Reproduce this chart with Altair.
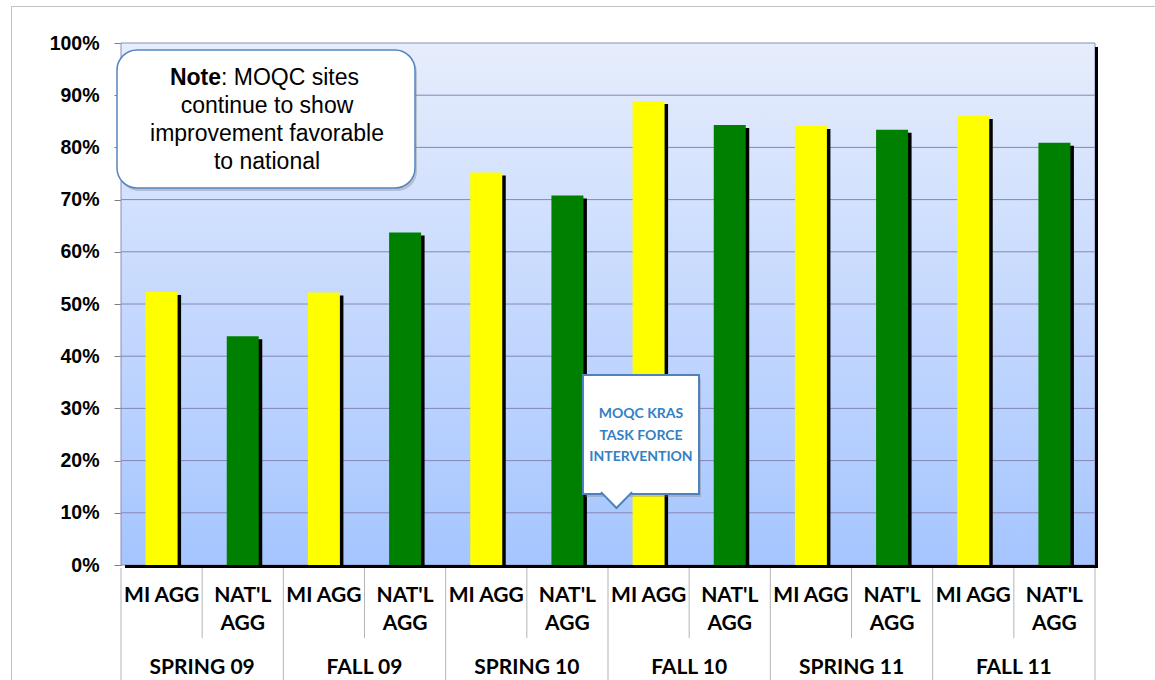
import altair as alt
import pandas as pd

# ---- data -------------------------------------------------------------
terms = ["SPRING 09", "FALL 09", "SPRING 10", "FALL 10", "SPRING 11", "FALL 11"]
series = ["MI AGG", "NAT'L AGG"]
series_label_lines = [["MI AGG"], ["NAT'L", "AGG"]]
mi_agg = [52.3, 52.2, 75.2, 88.9, 84.1, 86.0]
natl_agg = [43.8, 63.7, 70.8, 84.3, 83.4, 80.9]
series_colors = ["#FFFF00", "#008000"]
y_ticks = list(range(0, 101, 10))
note_bold = "Note"
note_first_rest = ": MOQC sites"
note_lines = ["continue to show", "improvement favorable", "to national"]
callout_lines = ["MOQC KRAS", "TASK FORCE", "INTERVENTION"]

# ---- layout -----------------------------------------------------------
W, H = 974, 522
LEFT, TOP = 121, 43
CANVAS_W, CANVAS_H = 1155, 680

n_slots = len(terms) * len(series)
rows = []
for i, term in enumerate(terms):
    for j, vals in enumerate([mi_agg, natl_agg]):
        lines = series_label_lines[j]
        rows.append({
            "term": term,
            "series": series[j],
            "value": vals[i],
            "pos": 2 * i + j + 0.5,
            "line1": lines[0],
            "line2": lines[1] if len(lines) > 1 else "",
        })
bars_df = pd.DataFrame(rows)
groups_df = pd.DataFrame({"term": terms, "pos": [2 * i + 1 for i in range(len(terms))]})
seps_df = pd.DataFrame({"pos": list(range(n_slots + 1))})
grid_df = pd.DataFrame({"v": y_ticks[1:-1]})
one = pd.DataFrame({"k": [0]})

x_scale = alt.Scale(domain=[0, n_slots], nice=False, zero=False, padding=0)
y_scale = alt.Scale(domain=[0, 100], nice=False)
X = alt.X("pos:Q", scale=x_scale, axis=None)
Y_AXIS = alt.Axis(
    values=y_ticks, labelExpr="datum.value + '%'", title=None,
    grid=False, domain=False, tickSize=7, tickColor="#808080",
    labelFont="Liberation Sans", labelFontWeight="bold",
    labelFontSize=19.5, labelColor="black", labelPadding=15,
)

LABEL_FONT = "Lato"
NOTE_FONT = "Liberation Sans"


def box(x0, x1, y0, y1, **mark):
    return alt.Chart(one).mark_rect(**mark).encode(
        x=alt.value(x0), x2=alt.value(x1), y=alt.value(y0), y2=alt.value(y1)
    )


def text_at(t, x, y, **mark):
    return alt.Chart(one).mark_text(text=t, **mark).encode(
        x=alt.value(x), y=alt.value(y)
    )


# outer frame lines
frame_v = box(11 - LEFT, 12 - LEFT, 6 - TOP, CANVAS_H - TOP, color="#c3c3c3")
frame_h = box(11 - LEFT, CANVAS_W - LEFT, 6 - TOP, 7 - TOP, color="#c3c3c3")

# plot background gradient
bg = box(0, W, 0, H, fill=alt.LinearGradient(
    gradient="linear",
    stops=[alt.GradientStop(color="#E6EDFC", offset=0),
           alt.GradientStop(color="#A5C5FF", offset=1)],
    x1=0, x2=0, y1=0, y2=1,
))

grid = alt.Chart(grid_df).mark_rule(color="#8686b6", strokeWidth=1).encode(
    y=alt.Y("v:Q", scale=y_scale, axis=Y_AXIS), x=alt.value(0), x2=alt.value(W)
)

border = box(0, W, 0, H, fill=None, stroke="#8c8cbc", strokeWidth=1)
shadow_r = box(W, W + 3, 4, H + 3, color="black")
shadow_b = box(4, W + 3, H, H + 3, color="black")

bar_shadow = alt.Chart(bars_df).mark_bar(
    width=32, orient="vertical", color="black", xOffset=3.5, yOffset=3
).encode(x=X, y=alt.Y("value:Q", scale=y_scale, axis=Y_AXIS))

bars = alt.Chart(bars_df).mark_bar(width=32, orient="vertical").encode(
    x=X,
    y=alt.Y("value:Q", scale=y_scale, axis=Y_AXIS),
    color=alt.Color("series:N", scale=alt.Scale(domain=series, range=series_colors), legend=None),
)

# note box
nx0, nx1, ny0, ny1 = 117 - LEFT, 415 - LEFT, 50 - TOP, 188 - TOP
note_shadow = box(nx0 + 2, nx1 + 2, ny0 + 3, ny1 + 3, color="#7f7f7f", opacity=0.35, cornerRadius=20)
note_box = box(nx0, nx1, ny0, ny1, fill="white", stroke="#5585c0", strokeWidth=1.5, cornerRadius=20)
note_cx = (nx0 + nx1) / 2 + 1
note_split = 221 - LEFT
note_style = dict(font=NOTE_FONT, fontSize=23, baseline="middle", color="black")
note_layers = [
    text_at(note_bold, note_split, 78 - TOP, align="right", fontWeight="bold", **note_style),
    text_at(note_first_rest, note_split, 78 - TOP, align="left", **note_style),
]
for k, line in enumerate(note_lines):
    note_layers.append(
        text_at(line, note_cx, 106 - TOP + 28 * k, align="center", **note_style)
    )

# callout box
cx0, cx1, cy0, cy1 = 583 - LEFT, 699 - LEFT, 375 - TOP, 494 - TOP
call_shadow = box(cx0 + 2, cx1 + 2, cy0 + 3, cy1 + 3, color="#7f7f7f", opacity=0.35)
call_box = box(cx0, cx1, cy0, cy1, fill="white", stroke="#4f81bd", strokeWidth=2)
pointer = alt.Chart(one).mark_point(
    shape="M-0.97,-0.12L0,0.875L0.97,-0.12", size=1024, filled=False,
    fill="white", fillOpacity=1, stroke="#4f81bd", strokeWidth=2, opacity=1
).encode(x=alt.value(616.5 - LEFT), y=alt.value(cy1))
call_layers = []
for k, line in enumerate(callout_lines):
    call_layers.append(
        text_at(line, (cx0 + cx1) / 2, 414 - TOP + 21.5 * k,
                font=LABEL_FONT, fontSize=14, fontWeight="bold",
                align="center", baseline="middle", color="#3380C4")
    )

# category axis: separators and two-level labels
seps = alt.Chart(seps_df).mark_rect(color="#b4b4b4", width=1).encode(
    x=X, y=alt.value(H + 3), y2=alt.value(CANVAS_H - TOP)
).transform_filter("datum.pos % 2 == 0")
seps_inner = alt.Chart(seps_df).mark_rect(color="#b4b4b4", width=1).encode(
    x=X, y=alt.value(H + 3), y2=alt.value(H + 73)
).transform_filter("datum.pos % 2 == 1")

lab_style = dict(font=LABEL_FONT, fontSize=21, fontWeight="bold",
                 align="center", baseline="middle", color="black")
lab1 = alt.Chart(bars_df).mark_text(**lab_style).encode(
    x=X, y=alt.value(596 - TOP), text="line1:N")
lab2 = alt.Chart(bars_df).mark_text(**lab_style).encode(
    x=X, y=alt.value(624 - TOP), text="line2:N")
lab_grp = alt.Chart(groups_df).mark_text(**lab_style).encode(
    x=X, y=alt.value(667.5 - TOP), text="term:N")

chart = alt.layer(
    frame_v, frame_h, bg, grid, border, shadow_r, shadow_b,
    bar_shadow, bars,
    note_shadow, note_box, *note_layers,
    call_shadow, call_box, pointer, *call_layers,
    seps, seps_inner, lab1, lab2, lab_grp,
).properties(
    width=W, height=H, autosize="none",
    padding={"left": LEFT, "top": TOP, "right": CANVAS_W - LEFT - W, "bottom": CANVAS_H - TOP - H},
    background="white",
).configure_view(stroke=None)

chart.save("out.html", embed_options={"renderer": "svg", "actions": False})
